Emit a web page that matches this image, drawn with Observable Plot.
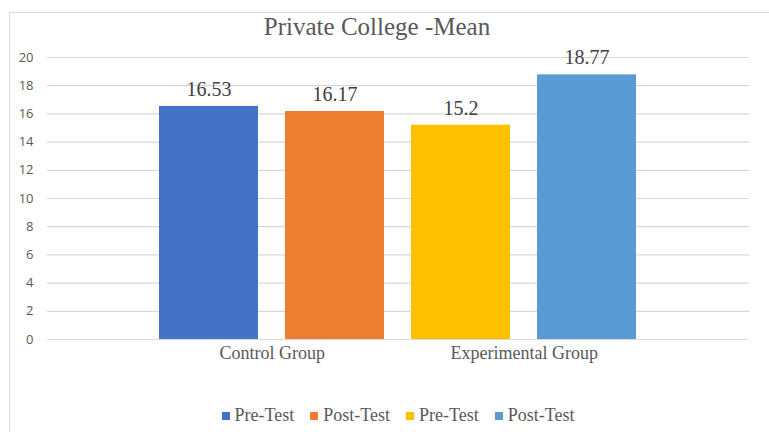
<!DOCTYPE html>
<html>
<head>
<meta charset="utf-8">
<script src="https://cdn.jsdelivr.net/npm/d3@7"></script>
<script src="https://cdn.jsdelivr.net/npm/@observablehq/plot@0.6"></script>
<style>
  html, body { margin: 0; padding: 0; background: #fff; }
  #wrap { position: relative; width: 769px; height: 432px; overflow: hidden; }
  #border { position: absolute; left: 9px; top: 12px; width: 800px; height: 500px;
            border-left: 1.5px solid #d9d9d9; border-top: 1.5px solid #d9d9d9; }
  #title { position: absolute; left: 0; width: 754px; top: 13px; text-align: center;
           font-family: "Liberation Serif", serif; font-size: 25px; color: #595959; }
  #chart { position: absolute; left: 0; top: 0; }
  #legend { position: absolute; left: 0; width: 796px; top: 405px; text-align: center;
            font-family: "Liberation Serif", serif; font-size: 18px; color: #595959; white-space: nowrap; }
  #legend span.item { display: inline-block; margin: 0 8px; }
  #legend span.sw { display: inline-block; width: 8px; height: 8px; margin-right: 5px; vertical-align: 1px; }
</style>
</head>
<body>
<div id="wrap">
  <div id="border"></div>
  <div id="title"></div>
  <div id="chart"></div>
  <div id="legend"></div>
</div>
<script>
const titleText = "Private College -Mean";
const groups = ["Control Group", "Control Group", "Experimental Group", "Experimental Group"];
const tests = ["Pre-Test", "Post-Test", "Pre-Test", "Post-Test"];
const means = [16.53, 16.17, 15.2, 18.77];
const colors = ["#4472C4", "#ED7D31", "#FFC000", "#5B9BD5"];
const groupNames = ["Control Group", "Experimental Group"];
const yTicks = [0, 2, 4, 6, 8, 10, 12, 14, 16, 18, 20];

const data = means.map((m, i) => ({key: String(i), group: groups[i], test: tests[i], mean: m, color: colors[i]}));
const keys = data.map(d => d.key);
const groupData = groupNames.map(g => ({name: g, key: data.find(d => d.group === g).key}));

document.getElementById("title").textContent = titleText;

const W = 769, H = 432;
const mL = 47, mR = 20, mT = 57, mB = 93;
const step = (W - mL - mR) / (4 - 0.2105 + 2 * 0.876);

const chart = Plot.plot({
  width: W,
  height: H,
  marginLeft: mL,
  marginRight: mR,
  marginTop: mT,
  marginBottom: mB,
  style: {background: "transparent", overflow: "visible"},
  x: {type: "band", domain: keys, paddingInner: 0.2105, paddingOuter: 0.876, axis: null},
  y: {domain: [0, 20], axis: null},
  marks: [
    Plot.ruleY(yTicks, {stroke: "#d9d9d9", strokeWidth: 1.2}),
    Plot.axisY({ticks: yTicks, label: null, tickSize: 0, tickPadding: 14, fill: "#595959",
                fontSize: 13, fontFamily: "'Open Sans', sans-serif"}),
    Plot.barY(data, {x: "key", y: "mean", fill: "color"}),
    Plot.text(data, {x: "key", y: "mean", text: d => String(d.mean), dy: -17,
                     fontSize: 20, fontFamily: "'Liberation Serif', serif", fill: "#404040"}),
    Plot.text(groupData, {x: "key", y: () => 0, text: "name", dx: step / 2, dy: 14,
                          fontSize: 18, fontFamily: "'Liberation Serif', serif", fill: "#595959"})
  ]
});
document.getElementById("chart").appendChild(chart);

const legend = document.getElementById("legend");
data.forEach(d => {
  const item = document.createElement("span");
  item.className = "item";
  const sw = document.createElement("span");
  sw.className = "sw";
  sw.style.background = d.color;
  item.appendChild(sw);
  item.appendChild(document.createTextNode(d.test));
  legend.appendChild(item);
});
</script>
</body>
</html>
